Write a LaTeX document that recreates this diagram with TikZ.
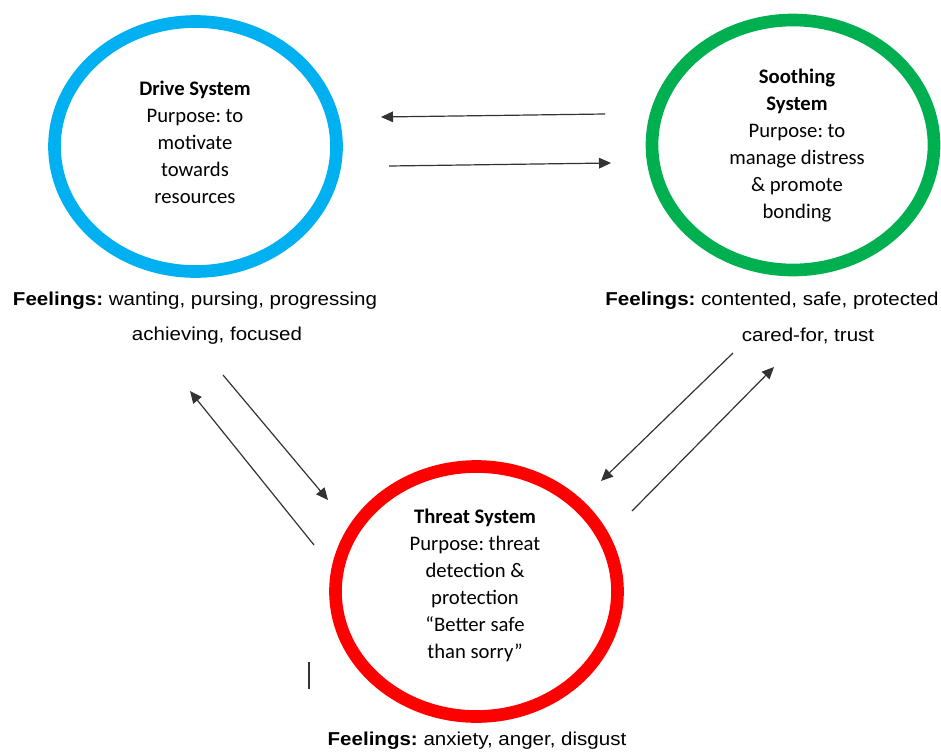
\documentclass[tikz,border=0pt]{standalone}
\usepackage{fontspec}
\setmainfont{Carlito}
\newfontfamily\narrowsans[FakeStretch=1.1]{Liberation Sans}
\usetikzlibrary{shapes.geometric,arrows.meta}
\definecolor{driveblue}{HTML}{00B0F0}
\definecolor{soothegreen}{HTML}{00B050}
\definecolor{threatred}{HTML}{FF0000}
\frenchspacing
\tikzset{
  system/.style={ellipse,draw,line width=9.5pt,inner sep=0pt,minimum width=211.5pt,minimum height=187.5pt},
  systxt/.style={align=center,font=\fontsize{15.5}{20.25}\selectfont},
  feel/.style={font=\narrowsans\fontsize{14}{26.25}\selectfont},
  arr/.style={-{Triangle[length=9pt,width=8pt]},line width=0.9pt,black!80}
}
\begin{document}
\begin{tikzpicture}[x=0.75pt,y=-0.75pt]
  \useasboundingbox (0,0) rectangle (941,753);
  % the three systems
  \node[system,driveblue] (drive) at (195.5,146.5) {};
  \node[system,soothegreen] (soothe) at (793,145) {};
  \node[system,threatred] (threat) at (476.5,591.5) {};
  \node[systxt] (drivetxt) at (195,142) {\textbf{Drive System}\\Purpose: to\\motivate\\towards\\resources};
  \node[systxt] (soothetxt) at (797,146) {\textbf{Soothing}\\\textbf{System}\\Purpose: to\\manage distress\\\& promote\\bonding};
  \node[systxt] (threattxt) at (475,585) {\textbf{Threat System}\\Purpose: threat\\detection \&\\protection\\“Better safe\\than sorry”};
  % feelings
  \node[feel] (drivefeel) at (195,301) {\textbf{Feelings:} wanting, pursing, progressing};
  \node[feel] (drivefeelb) at (217,336) {achieving, focused};
  \node[feel] (soothefeel) at (772,301) {\textbf{Feelings:} contented, safe, protected};
  \node[feel] (soothefeelb) at (808,336) {cared-for, trust};
  \node[feel] (threatfeel) at (477,741) {\textbf{Feelings:} anxiety, anger, disgust};
  % arrow ends
  \coordinate (ds1) at (605,114);
  \coordinate (ds2) at (381,117);
  \coordinate (sd1) at (389,166);
  \coordinate (sd2) at (611,163);
  \coordinate (dt1) at (223,375);
  \coordinate (dt2) at (328,500);
  \coordinate (td1) at (314,545);
  \coordinate (td2) at (190,391);
  \coordinate (st1) at (733,353);
  \coordinate (st2) at (601,481);
  \coordinate (ts1) at (632,511);
  \coordinate (ts2) at (774,367);
  \draw[arr] (ds1) -- (ds2);
  \draw[arr] (sd1) -- (sd2);
  \draw[arr] (dt1) -- (dt2);
  \draw[arr] (td1) -- (td2);
  \draw[arr] (st1) -- (st2);
  \draw[arr] (ts1) -- (ts2);
  \draw[line width=0.9pt,black!80] (309,662) -- (309,689);
\end{tikzpicture}
\end{document}
